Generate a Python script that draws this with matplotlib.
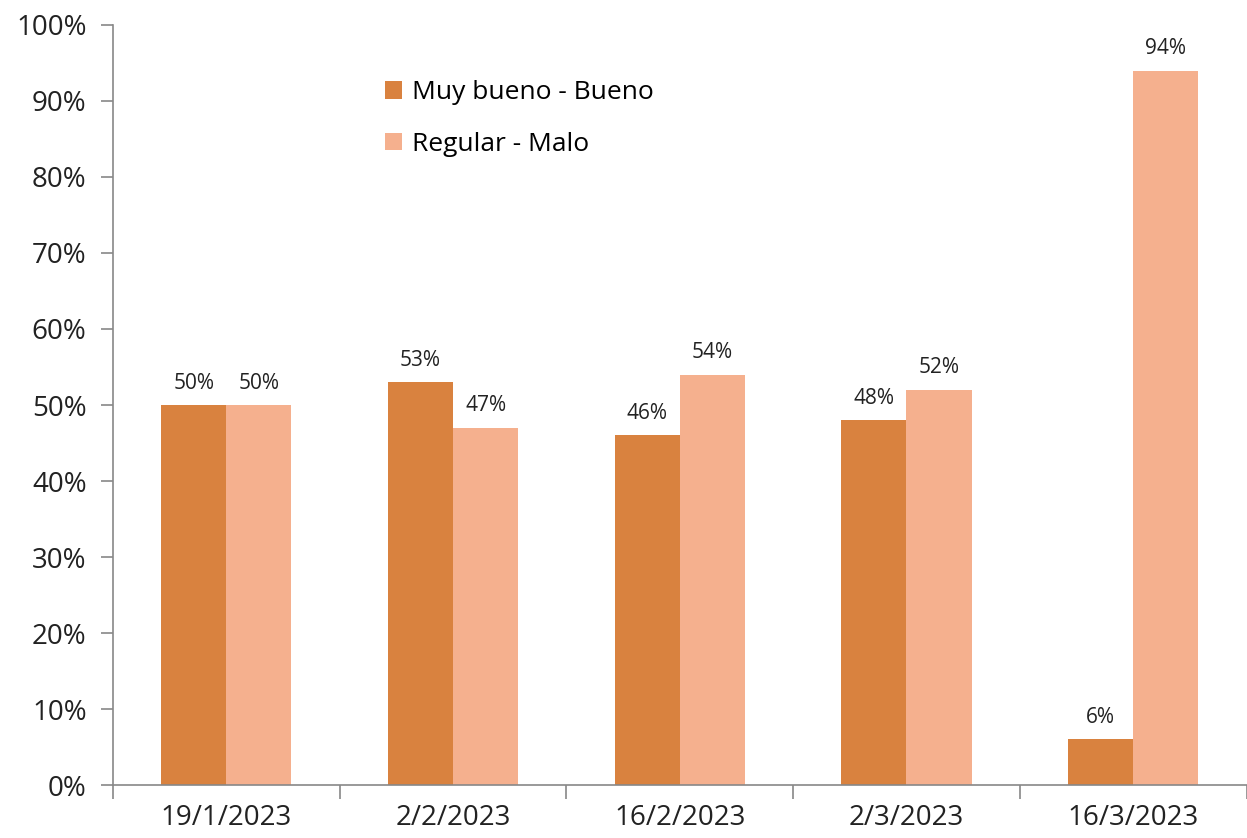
import matplotlib.pyplot as plt
import numpy as np
from matplotlib.ticker import FuncFormatter, FixedLocator

fechas = ["19/1/2023", "2/2/2023", "16/2/2023", "2/3/2023", "16/3/2023"]
muy_bueno_bueno = [50, 53, 46, 48, 6]
regular_malo = [50, 47, 54, 52, 94]

plt.rcParams['font.family'] = ['Open Sans', 'DejaVu Sans']

c_dark = "#D9823F"
c_light = "#F5B08E"

fig = plt.figure(figsize=(12.47, 8.38), dpi=100)
ax = fig.add_axes([0.0906, 0.0632, 0.909, 0.907])

x = np.arange(len(fechas))
w = 0.287
b1 = ax.bar(x - w / 2, muy_bueno_bueno, w, color=c_dark, label="Muy bueno - Bueno")
b2 = ax.bar(x + w / 2, regular_malo, w, color=c_light, label="Regular - Malo")

for bars, vals in [(b1, muy_bueno_bueno), (b2, regular_malo)]:
    for r, v in zip(bars, vals):
        ax.text(r.get_x() + r.get_width() / 2, v + 1.5, f"{v}%",
                ha="center", va="bottom", fontsize=15, color="#222222")

ax.set_xlim(-0.5, len(fechas) - 0.5)
ax.set_ylim(0, 100)
ax.set_yticks(range(0, 101, 10))
ax.yaxis.set_major_formatter(FuncFormatter(lambda v, p: f"{int(v)}%"))
ax.set_xticks(x)
ax.set_xticklabels(fechas)
ax.xaxis.set_minor_locator(FixedLocator(np.arange(-0.5, len(fechas), 1.0)))
ax.tick_params(axis="x", which="major", length=0, pad=14, labelsize=20, labelcolor="#222222")
ax.tick_params(axis="x", which="minor", length=10, color="#888888", width=1.2)
ax.tick_params(axis="y", length=9, color="#888888", width=1.2, pad=10, labelsize=20, labelcolor="#222222")

for s in ["top", "right"]:
    ax.spines[s].set_visible(False)
for s in ["left", "bottom"]:
    ax.spines[s].set_color("#888888")
    ax.spines[s].set_linewidth(1.2)

ax.legend(loc="upper left", bbox_to_anchor=(0.309, 0.904), bbox_transform=fig.transFigure,
          frameon=False, fontsize=19, handlelength=0.65, handleheight=0.65,
          handletextpad=0.35, labelspacing=1.0, borderaxespad=0, borderpad=0)

fig.savefig("out.png", dpi=100)
